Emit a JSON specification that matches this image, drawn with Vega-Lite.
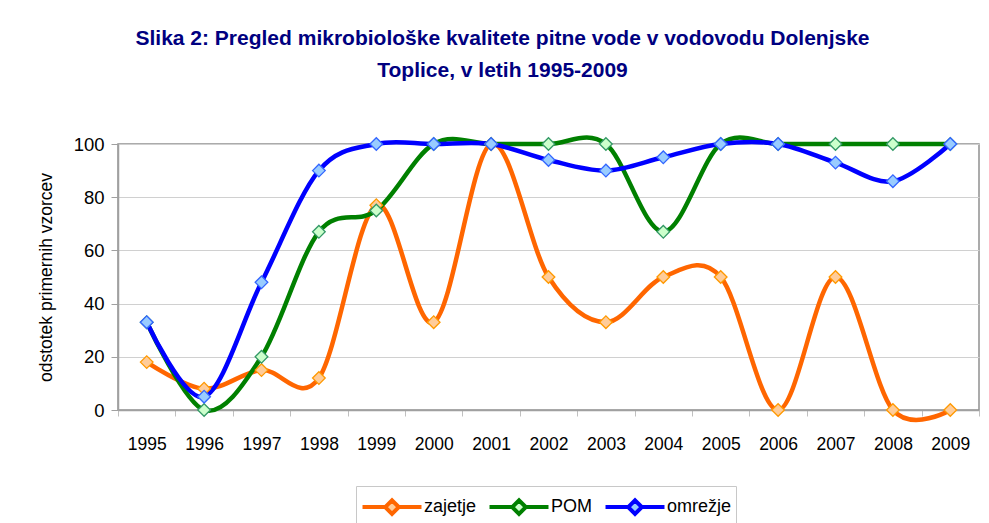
{
  "$schema": "https://vega.github.io/schema/vega-lite/v6.json",
  "width": 861,
  "height": 266,
  "autosize": {"type": "none"},
  "padding": {"left": 118, "top": 144, "right": 10, "bottom": 113},
  "background": "white",
  "title": {
    "text": ["Slika 2: Pregled mikrobiološke kvalitete pitne vode v vodovodu Dolenjske", "Toplice, v letih 1995-2009"],
    "font": "Liberation Sans",
    "fontSize": 21,
    "fontWeight": "bold",
    "color": "#000080",
    "anchor": "middle",
    "dx": -46,
    "lineHeight": 32,
    "offset": 47
  },
  "data": {
    "values": [
      {"year": "1995", "series": "zajetje", "value": 18},
      {"year": "1996", "series": "zajetje", "value": 8},
      {"year": "1997", "series": "zajetje", "value": 15},
      {"year": "1998", "series": "zajetje", "value": 12},
      {"year": "1999", "series": "zajetje", "value": 77},
      {"year": "2000", "series": "zajetje", "value": 33},
      {"year": "2001", "series": "zajetje", "value": 100},
      {"year": "2002", "series": "zajetje", "value": 50},
      {"year": "2003", "series": "zajetje", "value": 33},
      {"year": "2004", "series": "zajetje", "value": 50},
      {"year": "2005", "series": "zajetje", "value": 50},
      {"year": "2006", "series": "zajetje", "value": 0},
      {"year": "2007", "series": "zajetje", "value": 50},
      {"year": "2008", "series": "zajetje", "value": 0},
      {"year": "2009", "series": "zajetje", "value": 0},
      {"year": "1995", "series": "POM", "value": 33},
      {"year": "1996", "series": "POM", "value": 0},
      {"year": "1997", "series": "POM", "value": 20},
      {"year": "1998", "series": "POM", "value": 67},
      {"year": "1999", "series": "POM", "value": 75},
      {"year": "2000", "series": "POM", "value": 100},
      {"year": "2001", "series": "POM", "value": 100},
      {"year": "2002", "series": "POM", "value": 100},
      {"year": "2003", "series": "POM", "value": 100},
      {"year": "2004", "series": "POM", "value": 67},
      {"year": "2005", "series": "POM", "value": 100},
      {"year": "2006", "series": "POM", "value": 100},
      {"year": "2007", "series": "POM", "value": 100},
      {"year": "2008", "series": "POM", "value": 100},
      {"year": "2009", "series": "POM", "value": 100},
      {"year": "1995", "series": "omrežje", "value": 33},
      {"year": "1996", "series": "omrežje", "value": 5},
      {"year": "1997", "series": "omrežje", "value": 48},
      {"year": "1998", "series": "omrežje", "value": 90},
      {"year": "1999", "series": "omrežje", "value": 100},
      {"year": "2000", "series": "omrežje", "value": 100},
      {"year": "2001", "series": "omrežje", "value": 100},
      {"year": "2002", "series": "omrežje", "value": 94},
      {"year": "2003", "series": "omrežje", "value": 90},
      {"year": "2004", "series": "omrežje", "value": 95},
      {"year": "2005", "series": "omrežje", "value": 100},
      {"year": "2006", "series": "omrežje", "value": 100},
      {"year": "2007", "series": "omrežje", "value": 93},
      {"year": "2008", "series": "omrežje", "value": 86},
      {"year": "2009", "series": "omrežje", "value": 100}
    ]
  },
  "encoding": {
    "x": {
      "field": "year",
      "type": "ordinal",
      "bandPosition": 0.5,
      "scale": {"type": "band", "paddingInner": 0, "paddingOuter": 0},
      "axis": {
        "title": null,
        "labelAngle": 0,
        "tickBand": "extent",
        "grid": false,
        "labelFont": "Liberation Sans",
        "labelFontSize": 17.5,
        "labelColor": "#000000",
        "labelPadding": 19,
        "tickColor": "#c0c0c0",
        "tickSize": 6,
        "domainColor": "#a0a0a0",
        "domainWidth": 1.5
      }
    },
    "y": {
      "field": "value",
      "type": "quantitative",
      "scale": {"domain": [0, 100], "nice": false},
      "axis": {
        "title": "odstotek primernih vzorcev",
        "titleFont": "Liberation Sans",
        "titleFontSize": 17.5,
        "titleFontWeight": "normal",
        "titleColor": "#000000",
        "titlePadding": 18,
        "values": [0, 20, 40, 60, 80, 100],
        "labelFont": "Liberation Sans",
        "labelFontSize": 18.5,
        "labelColor": "#000000",
        "labelPadding": 7,
        "tickColor": "#a0a0a0",
        "tickSize": 7,
        "domainColor": "#a0a0a0",
        "domainWidth": 1.5,
        "gridColor": "#d0d0d0",
        "gridWidth": 1
      }
    }
  },
  "layer": [
    {
      "mark": {"type": "line", "interpolate": "cardinal", "strokeWidth": 4.5, "clip": false},
      "encoding": {
        "color": {
          "field": "series",
          "type": "nominal",
          "sort": ["zajetje", "POM", "omrežje"],
          "scale": {"domain": ["zajetje", "POM", "omrežje"], "range": ["#FF6600", "#008000", "#0000FF"]},
          "legend": {
            "title": null,
            "orient": "none",
            "direction": "horizontal",
            "legendX": 238,
            "legendY": 342,
            "symbolType": "M-2,0L-0.46,0M0.46,0L2,0M-0.46,0L0,-0.46L0.46,0L0,0.46Z",
            "symbolSize": 870,
            "symbolStrokeWidth": 4,
            "symbolOffset": 15,
            "labelFont": "Liberation Sans",
            "labelFontSize": 18,
            "labelColor": "#000000",
            "labelOffset": 15,
            "columnPadding": 4,
            "strokeColor": "#c8c8c8",
            "padding": 4,
            "fillColor": "white",
            "encode": {
              "symbols": {
                "update": {
                  "fill": {"scale": "fill", "field": "value"},
                  "fillOpacity": {"value": 1}
                }
              }
            }
          }
        }
      }
    },
    {
      "mark": {"type": "point", "shape": "diamond", "filled": true, "size": 160, "strokeWidth": 1.3, "opacity": 1},
      "encoding": {
        "fill": {
          "field": "series",
          "type": "nominal",
          "scale": {"domain": ["zajetje", "POM", "omrežje"], "range": ["#FFCC99", "#CCFFCC", "#99CCFF"]},
          "legend": null
        },
        "stroke": {
          "field": "series",
          "type": "nominal",
          "scale": {"domain": ["zajetje", "POM", "omrežje"], "range": ["#FF9900", "#339966", "#3366FF"]},
          "legend": null
        }
      }
    }
  ],
  "config": {
    "view": {"stroke": "#909090", "strokeWidth": 1.5},
    "font": "Liberation Sans"
  }
}
